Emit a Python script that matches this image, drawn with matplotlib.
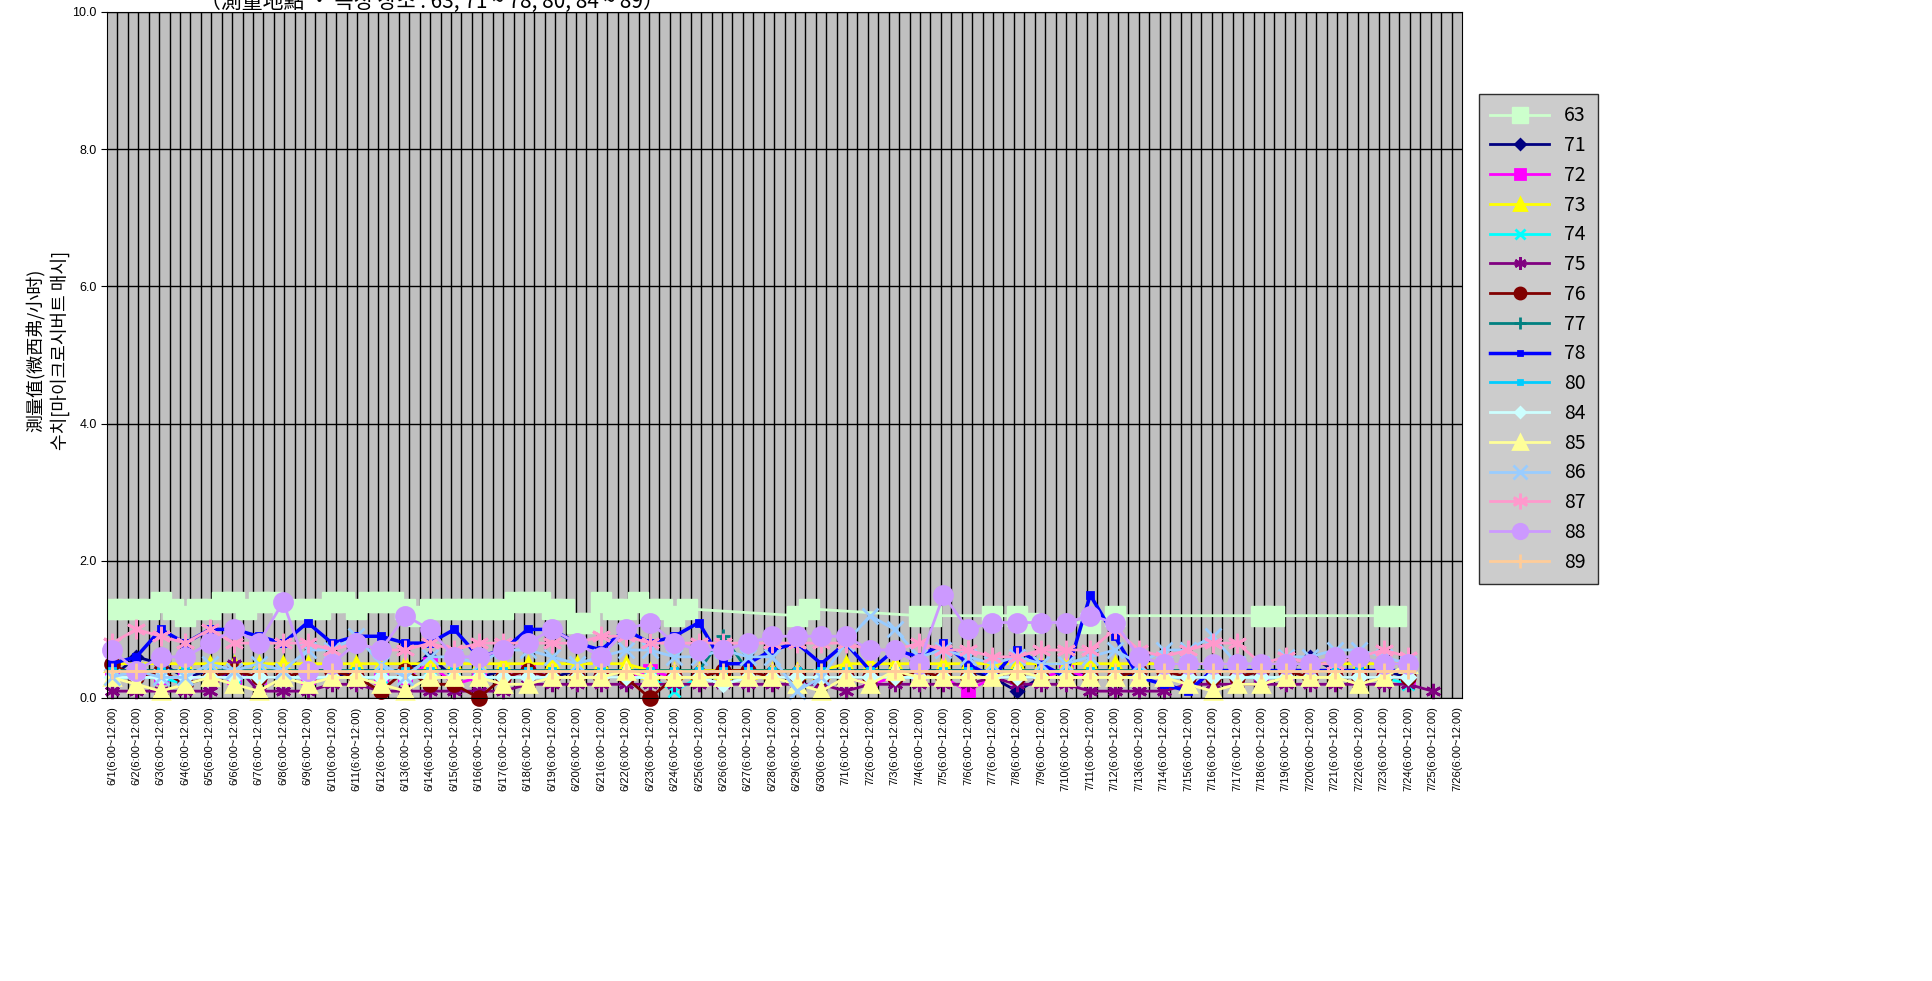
import matplotlib
matplotlib.use("Agg")
import matplotlib.pyplot as plt
import numpy as np

plt.rcParams['font.family'] = ['Noto Sans CJK SC', 'Noto Sans CJK KR', 'DejaVu Sans']

days = [f"6/{d}" for d in range(1, 31)] + [f"7/{d}" for d in range(1, 27)]
tick_labels = [f"{d}(6:00~12:00)" for d in days]
N = np.nan

# station 63: two readings per day (half-day steps)
s63 = [1.3,1.3, 1.3,1.3, 1.4,1.3, 1.2,1.3, 1.3,1.4, 1.4,1.3, 1.4,1.4, 1.3,1.3,
       1.3,1.3, 1.4,1.4, 1.3,1.4, 1.4,1.4, 1.3,1.2, 1.3,1.3, 1.3,1.3, 1.3,1.3,
       1.3,1.4, 1.4,1.4, 1.3,1.3, 1.1,1.1, 1.4,1.3, 1.3,1.4, 1.3,1.3, 1.2,1.3,
       N,N, N,N, N,N, N,N, 1.2,1.3, N,N, N,N, N,N, N,N, 1.2,1.2, N,N, N,N,
       1.2,N, 1.2,1.1, N,N, N,N, 1.1,N, 1.2,N, N,N, N,N, N,N, N,N, N,N,
       1.2,1.2, N,N, N,N, N,N, N,N, 1.2,1.2, N,N, N,N, N,N]

series = {
 '71': [0.3,0.6,0.5,0.3,0.4,0.3,0.3,0.3,0.3,0.3,0.4,0.4,0.4,0.6,0.3,0.3,0.4,0.4,0.3,0.4,0.4,0.4,0.4,0.4,0.4,0.4,0.4,0.4,0.4,0.4,0.4,0.4,0.4,0.4,0.4,0.4,0.3,0.1,0.3,0.3,0.4,0.4,0.3,0.3,0.3,0.3,0.3,0.4,0.4,0.6,0.4,0.4,0.4,0.3,N,N],
 '72': [0.4,0.4,0.3,0.3,0.3,0.3,0.3,0.3,0.3,0.3,0.3,0.3,0.3,0.5,0.2,0.3,0.3,0.4,0.3,0.3,0.3,0.3,0.4,0.3,0.3,0.3,0.3,0.3,0.3,0.3,0.3,0.2,0.3,0.3,0.3,0.1,0.3,0.3,0.3,0.4,0.3,0.3,0.3,0.3,0.3,0.3,0.3,0.3,0.3,0.3,0.3,0.3,0.3,0.3,N,N],
 '73': [0.5,0.5,0.5,0.5,0.5,0.5,0.5,0.5,0.5,0.5,0.5,0.5,0.5,0.5,0.5,0.5,0.5,0.5,0.5,0.5,0.5,0.5,0.4,0.4,0.4,0.4,0.4,0.4,0.4,0.4,0.5,0.5,0.5,0.5,0.5,0.5,0.5,0.5,0.5,0.5,0.5,0.5,0.5,0.5,0.5,0.5,0.5,0.5,0.5,0.5,0.5,0.5,0.5,0.5,N,N],
 '74': [0.3,0.3,0.3,0.2,0.3,0.3,0.3,0.3,0.3,0.3,0.3,0.3,0.3,0.3,0.3,0.3,0.3,0.3,0.3,0.3,0.3,0.3,0.3,0.1,0.3,0.3,0.3,0.3,0.3,0.3,0.3,0.3,0.3,0.3,0.3,0.3,0.3,0.3,0.3,0.3,0.3,0.3,0.3,0.3,0.3,0.3,0.3,0.3,0.3,0.3,0.3,0.3,0.3,0.2,N,N],
 '75': [0.1,0.1,0.1,0.1,0.1,0.5,0.1,0.1,0.1,0.2,0.2,0.1,0.1,0.1,0.1,0.1,0.1,0.2,0.2,0.2,0.2,0.2,0.2,0.2,0.2,0.2,0.2,0.2,0.2,0.2,0.1,0.2,0.2,0.2,0.2,0.2,0.3,0.2,0.2,0.2,0.1,0.1,0.1,0.1,0.2,0.2,0.2,0.2,0.2,0.2,0.2,0.2,0.2,0.2,0.1,N],
 '76': [0.5,0.3,0.4,0.2,0.3,0.4,0.3,0.3,0.4,0.4,0.3,0.1,0.4,0.2,0.2,0.0,0.3,0.4,0.3,0.3,0.3,0.3,0.0,0.3,0.3,0.4,0.4,0.3,0.3,0.3,0.3,0.3,0.3,0.4,0.3,0.3,0.3,0.3,0.3,0.3,0.3,0.3,0.4,0.4,0.3,0.3,0.3,0.4,0.4,0.3,0.3,0.3,0.3,0.3,N,N],
 '77': [0.4,0.4,0.4,0.4,0.4,0.4,0.4,0.4,0.4,0.4,0.4,0.4,0.4,0.4,0.4,0.4,0.4,0.4,0.4,0.4,0.4,0.4,0.4,0.4,0.4,0.9,0.4,0.4,0.4,0.4,0.4,0.4,0.4,0.4,0.4,0.4,0.4,0.4,0.4,0.4,0.4,0.4,0.4,0.4,0.4,0.4,0.4,0.4,0.4,0.4,0.4,0.4,0.4,0.4,N,N],
 '78': [0.5,0.6,1.0,0.8,1.0,1.0,0.9,0.8,1.1,0.8,0.9,0.9,0.8,0.8,1.0,0.6,0.7,1.0,1.0,0.8,0.7,1.0,0.8,0.9,1.1,0.5,0.5,0.7,0.8,0.5,0.8,0.4,0.7,0.6,0.8,0.5,0.3,0.7,0.5,0.3,1.5,0.9,0.3,0.2,0.1,0.4,0.4,0.4,0.4,0.4,0.4,0.4,0.4,0.4,N,N],
 '80': [0.4,0.4,0.4,0.4,0.4,0.4,0.4,0.4,0.4,0.4,0.4,0.4,0.4,0.4,0.4,0.4,0.4,0.4,0.4,0.4,0.4,0.4,0.4,0.4,0.4,0.4,0.4,0.4,0.4,0.4,0.4,0.4,0.4,0.4,0.4,0.4,0.4,0.4,0.4,0.4,0.4,0.4,0.4,0.4,0.4,0.4,0.4,0.4,0.4,0.4,0.4,0.4,0.4,0.4,N,N],
 '84': [0.3,0.3,0.3,0.3,0.3,0.3,0.3,0.3,0.3,0.3,0.3,0.3,0.3,0.3,0.3,0.3,0.3,0.3,0.3,0.3,0.3,0.3,0.3,0.3,0.3,0.2,0.3,0.3,0.3,0.3,0.3,0.3,0.3,0.3,0.3,0.3,0.3,0.3,0.3,0.3,0.3,0.3,0.3,0.3,0.3,0.3,0.3,0.3,0.3,0.3,0.3,0.3,0.3,0.3,N,N],
 '85': [0.3,0.2,0.1,0.2,0.3,0.2,0.1,0.3,0.2,0.3,0.3,0.2,0.1,0.3,0.3,0.3,0.2,0.2,0.3,0.3,0.3,0.4,0.3,0.3,0.3,0.3,0.3,0.3,0.2,0.1,0.3,0.2,0.4,0.3,0.3,0.3,0.3,0.4,0.3,0.3,0.3,0.3,0.3,0.3,0.2,0.1,0.2,0.2,0.3,0.3,0.3,0.2,0.3,0.5,N,N],
 '86': [0.3,0.4,0.3,0.3,0.5,0.4,0.5,0.4,0.7,0.7,0.9,0.5,0.3,0.6,0.6,0.5,0.7,0.7,0.6,0.5,0.6,0.7,0.7,0.6,0.6,0.7,0.6,0.6,0.1,0.3,0.8,1.2,1.0,0.6,0.7,0.6,0.5,0.6,0.5,0.5,0.6,0.7,0.5,0.7,0.7,0.9,0.5,0.5,0.6,0.6,0.7,0.7,0.6,0.5,N,N],
 '87': [0.8,1.0,0.9,0.8,1.0,0.8,0.8,0.8,0.8,0.7,0.8,0.7,0.7,0.8,0.7,0.8,0.8,0.8,0.8,0.8,0.9,0.9,0.8,0.8,0.8,0.8,0.8,0.8,0.8,0.8,0.8,0.7,0.7,0.8,0.7,0.7,0.6,0.6,0.7,0.7,0.7,1.0,0.7,0.6,0.7,0.8,0.8,0.5,0.6,0.5,0.5,0.6,0.7,0.6,N,N],
 '88': [0.7,0.4,0.6,0.6,0.8,1.0,0.8,1.4,0.4,0.5,0.8,0.7,1.2,1.0,0.6,0.6,0.7,0.8,1.0,0.8,0.6,1.0,1.1,0.8,0.7,0.7,0.8,0.9,0.9,0.9,0.9,0.7,0.7,0.5,1.5,1.0,1.1,1.1,1.1,1.1,1.2,1.1,0.6,0.5,0.5,0.5,0.5,0.5,0.5,0.5,0.6,0.6,0.5,0.5,N,N],
 '89': [0.4,0.4,0.4,0.4,0.4,0.4,0.4,0.4,0.4,0.4,0.4,0.4,0.4,0.4,0.4,0.4,0.4,0.4,0.4,0.4,0.4,0.4,0.4,0.4,0.4,0.4,0.4,0.4,0.4,0.4,0.4,0.4,0.4,0.4,0.4,0.4,0.4,0.4,0.4,0.4,0.4,0.4,0.4,0.4,0.4,0.4,0.4,0.4,0.4,0.4,0.4,0.4,0.4,0.4,N,N],
}

styles = {
 '63': ('#CCFFCC', 's', 14, 2),
 '71': ('#000080', 'D', 6, 2),
 '72': ('#FF00FF', 's', 9, 2),
 '73': ('#FFFF00', '^', 10, 2),
 '74': ('#00FFFF', 'x', 9, 2),
 '75': ('#800080', (6, 2, 0), 11, 2),
 '76': ('#800000', 'o', 10, 2),
 '77': ('#008080', '+', 10, 2),
 '78': ('#0000FF', 's', 4, 2.5),
 '80': ('#00CCFF', 's', 4, 2),
 '84': ('#CCFFFF', 'D', 7, 2),
 '85': ('#FFFF99', '^', 12, 2),
 '86': ('#99CCFF', 'x', 12, 2),
 '87': ('#FF99CC', (6, 2, 0), 14, 2),
 '88': ('#CC99FF', 'o', 13, 2),
 '89': ('#FFCC99', '+', 12, 2),
}

W, H = 1933, 981
fig = plt.figure(figsize=(W/100, H/100), dpi=100)
ax = fig.add_axes([107/W, 1-698/H, (1462-107)/W, (698-12)/H])
ax.set_facecolor('#C0C0C0')
nd = len(days)
ax.set_xlim(-0.2, nd-0.8)
ax.set_ylim(0, 10)

for gx in np.linspace(-0.2, nd-0.8, 131)[1:-1]:
    ax.axvline(gx, color='black', lw=1.0, zorder=0)
ax.set_yticks(np.arange(0, 10.1, 2))
ax.set_yticklabels([f"{v:.1f}" for v in np.arange(0, 10.1, 2)], fontsize=9, family='Liberation Sans')
ax.yaxis.grid(True, color='black', lw=1)
ax.set_axisbelow(True)
ax.set_xticks(range(nd))
ax.set_xticklabels(tick_labels, rotation=90, fontsize=8, family='Liberation Sans')
ax.tick_params(axis='x', length=0, pad=6)
ax.tick_params(axis='y', length=4)

handles = []
x63 = np.arange(len(s63)) / 2.0
m = ~np.isnan(np.array(s63, float))
c, mk, ms, lw = styles['63']
h, = ax.plot(x63[m], np.array(s63, float)[m], color=c, marker=mk, ms=ms, lw=lw, label='63')
handles.append(h)
for name, vals in series.items():
    v = np.array(vals, float)
    x = np.arange(nd)
    mm = ~np.isnan(v)
    c, mk, ms, lw = styles[name]
    h, = ax.plot(x[mm], v[mm], color=c, marker=mk, ms=ms, lw=lw, mew=2, label=name, clip_on=False)
    handles.append(h)

fig.text(48/W, 1-350/H, '測量值(微西弗/小时)\n수치[마이크로시버트 매시]', fontsize=13,
         rotation=90, ha='center', va='center', linespacing=1.3)

leg = fig.legend(handles=handles, loc='upper left', bbox_to_anchor=(1469/W, 1-84/H),
                 fontsize=14, frameon=True, fancybox=False, edgecolor='black',
                 facecolor='#C0C0C0', handlelength=3, markerscale=0.8, labelspacing=0.45,
                 borderpad=0.6)
leg.get_frame().set_linewidth(1)

fig.text(200/W, 1-2/H, '（測量地點 · 측정 장소 : 63, 71 ~ 78, 80, 84 ~ 89）', fontsize=15, va='center')
fig.savefig('out.png', dpi=100)
